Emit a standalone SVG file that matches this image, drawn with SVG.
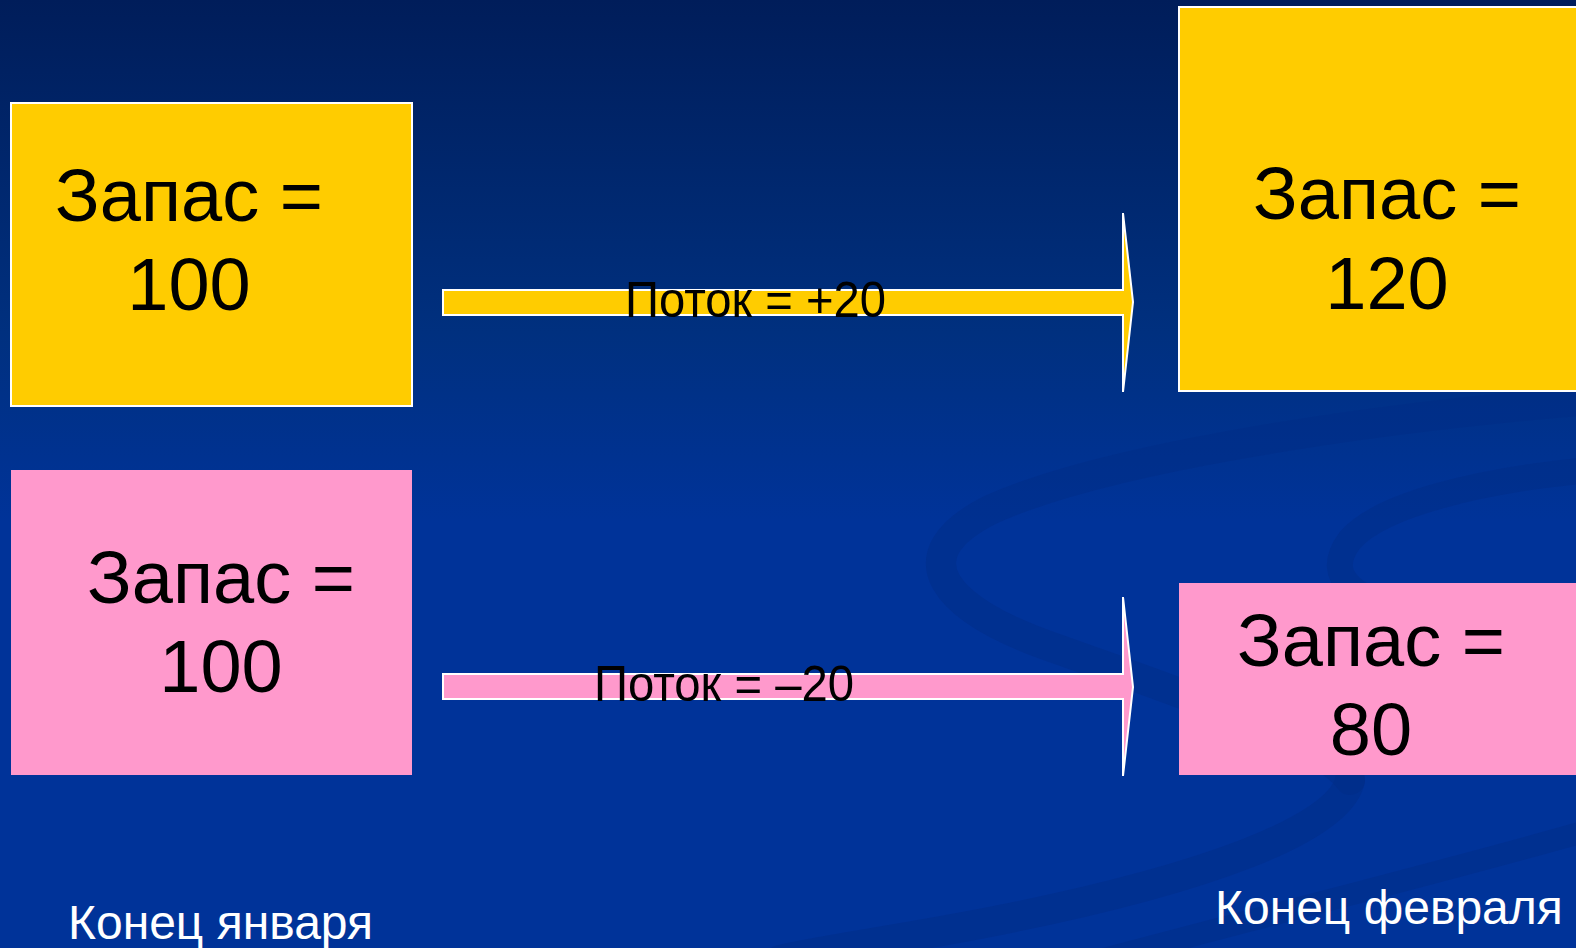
<svg xmlns="http://www.w3.org/2000/svg" width="1576" height="948" viewBox="0 0 1576 948">
  <defs>
    <linearGradient id="bg" x1="0" y1="0" x2="0" y2="1">
      <stop offset="0" stop-color="#001D5A"/>
      <stop offset="0.35" stop-color="#00307F"/>
      <stop offset="0.55" stop-color="#003399"/>
      <stop offset="1" stop-color="#003399"/>
    </linearGradient>
  </defs>
  <style>
    .big { font-family: "Liberation Sans", Arial, sans-serif; font-size: 74px; fill: #000000; text-anchor: middle; }
    .flow { font-family: "Liberation Sans", Arial, sans-serif; font-size: 50px; fill: #000000; }
    .cap { font-family: "Liberation Sans", Arial, sans-serif; font-size: 48px; fill: #FFFFFF; }
    .yel { fill: #FFCC00; stroke: #FFFFFF; stroke-width: 2; }
    .pnk { fill: #FF99CC; }
    .arrY { fill: #FFCC00; stroke: #FFFFFF; stroke-width: 2; stroke-linejoin: miter; }
    .arrP { fill: #FF99CC; stroke: #FFFFFF; stroke-width: 2; stroke-linejoin: miter; }
    .swirl { fill: none; stroke: #002C85; stroke-linecap: round; opacity: 0.45; }
  </style>
  <rect x="0" y="0" width="1576" height="948" fill="url(#bg)"/>
  <g id="background-swirls">
    <path class="swirl" stroke-width="30" d="M1590,400 C1350,420 1100,460 990,510 C900,555 940,610 1060,650 C1200,700 1320,740 1350,780"/>
    <path class="swirl" stroke-width="26" d="M1590,470 C1480,480 1380,505 1350,540 C1320,580 1360,600 1420,620"/>
    <path class="swirl" stroke-width="30" d="M1350,780 C1340,830 1200,880 1000,920 C900,940 820,950 780,960"/>
    <path class="swirl" stroke-width="22" d="M1590,830 C1450,870 1250,920 1100,960"/>
  </g>
  <g id="connectors">
    <g id="flow-plus">
      <polygon class="arrY" points="443,290 1123,290 1123,213 1133,302 1123,392 1123,315 443,315"/>
      <text class="flow" x="625" y="317" textLength="261" lengthAdjust="spacingAndGlyphs">Поток = +20</text>
    </g>
    <g id="flow-minus">
      <polygon class="arrP" points="443,674 1123,674 1123,597 1133,687 1123,776 1123,699 443,699"/>
      <text class="flow" x="594" y="701" textLength="260" lengthAdjust="spacingAndGlyphs">Поток = –20</text>
    </g>
  </g>
  <g id="stock-jan-yellow">
    <rect class="yel" x="11" y="103" width="401" height="303"/>
    <text class="big" x="189" y="221">Запас =</text>
    <text class="big" x="189" y="310">100</text>
  </g>
  <g id="stock-jan-pink">
    <rect class="pnk" x="11" y="470" width="401" height="305"/>
    <text class="big" x="221" y="603">Запас =</text>
    <text class="big" x="221" y="692">100</text>
  </g>
  <g id="stock-feb-yellow">
    <rect class="yel" x="1179" y="7" width="420" height="384"/>
    <text class="big" x="1387" y="219">Запас =</text>
    <text class="big" x="1387" y="309">120</text>
  </g>
  <g id="stock-feb-pink">
    <rect class="pnk" x="1179" y="583" width="420" height="192"/>
    <text class="big" x="1371" y="666">Запас =</text>
    <text class="big" x="1371" y="755">80</text>
  </g>
  <g id="label-jan">
    <text class="cap" x="68" y="939">Конец января</text>
  </g>
  <g id="label-feb">
    <text class="cap" x="1215" y="924">Конец февраля</text>
  </g>
</svg>
